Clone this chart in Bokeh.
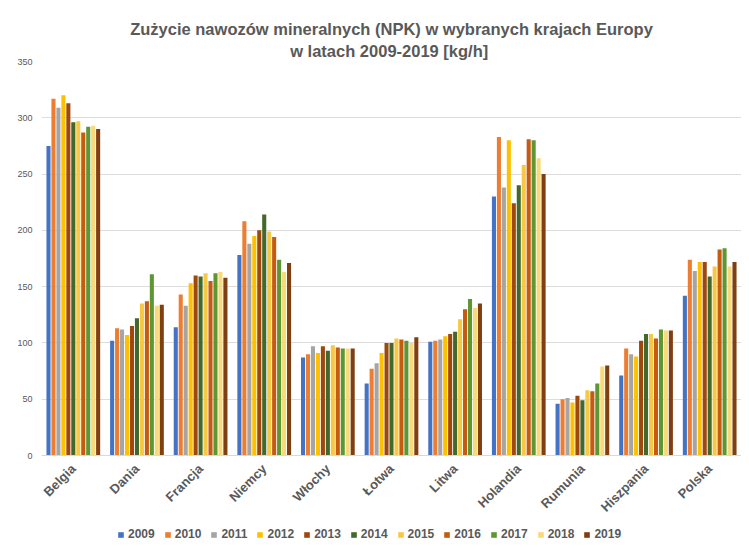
import math
from bokeh.plotting import figure
from bokeh.layouts import column
from bokeh.models import ColumnDataSource, Range1d, FactorRange, Legend, LegendItem, Title, FixedTicker
from bokeh.transform import dodge
from bokeh.embed import file_html
from bokeh.resources import INLINE

countries = ["Belgia", "Dania", "Francja", "Niemcy", "Włochy", "Łotwa", "Litwa",
             "Holandia", "Rumunia", "Hiszpania", "Polska"]
years = ["2009", "2010", "2011", "2012", "2013", "2014", "2015", "2016", "2017", "2018", "2019"]

# values per country, ordered by year 2009..2019
belgia    = [275, 317, 309, 320, 313, 296, 297, 287, 292, 293, 290]
dania     = [102, 113, 112, 107, 115, 122, 135, 137, 161, 133, 134]
francja   = [114, 143, 133, 153, 160, 159, 162, 155, 162, 163, 158]
niemcy    = [178, 208, 188, 195, 200, 214, 199, 194, 174, 163, 171]
wlochy    = [87, 90, 97, 91, 97, 93, 98, 96, 95, 95, 95]
lotwa     = [64, 77, 82, 91, 100, 100, 104, 103, 102, 100, 105]
litwa     = [101, 102, 103, 106, 108, 110, 121, 130, 139, 131, 135]
holandia  = [230, 283, 238, 280, 224, 240, 258, 281, 280, 264, 250]
rumunia   = [46, 50, 51, 47, 53, 49, 58, 57, 64, 79, 80]
hiszpania = [71, 95, 90, 88, 102, 108, 108, 104, 112, 111, 111]
polska    = [142, 174, 164, 172, 172, 159, 168, 183, 184, 168, 172]

rows = [belgia, dania, francja, niemcy, wlochy, lotwa, litwa, holandia, rumunia, hiszpania, polska]
colors = ["#4472C4", "#ED7D31", "#A5A5A5", "#FFC000", "#9E480E", "#43682B",
          "#F7C843", "#C55A11", "#5E9732", "#F9D978", "#7F3F12"]
title_1 = "Zużycie nawozów mineralnych (NPK) w wybranych krajach Europy"
title_2 = "w latach 2009-2019  [kg/h]"

data = {"country": countries}
for j, y in enumerate(years):
    data["y" + y] = [r[j] for r in rows]
src = ColumnDataSource(data)

TXT = "#595959"
p = figure(width=741, height=523, x_range=FactorRange(*countries), y_range=Range1d(0, 350),
           output_backend="svg", toolbar_location=None, min_border_left=41,
           min_border_right=0, min_border_top=61, min_border_bottom=0)

step = 0.078
for j, y in enumerate(years):
    p.vbar(x=dodge("country", (j - 5) * step, range=p.x_range), top="y" + y,
           width=0.064, source=src, color=colors[j], line_color=None)

p.add_layout(Title(text=title_2, align="center", text_font_size="16.5px", text_line_height=0.8,
                   text_font="Liberation Sans", text_font_style="bold", text_color=TXT,
                   standoff=4), "above")
p.add_layout(Title(text=title_1, align="center", text_font_size="16.5px",
                   text_font="Liberation Sans", text_font_style="bold", text_color=TXT,
                   standoff=0), "above")

p.outline_line_color = None
p.xgrid.grid_line_color = None
p.ygrid.grid_line_color = "#DDDDDD"
p.yaxis.ticker = FixedTicker(ticks=[0, 50, 100, 150, 200, 250, 300, 350])
p.yaxis.axis_line_color = None
p.yaxis.major_tick_line_color = None
p.yaxis.minor_tick_line_color = None
p.yaxis.major_label_text_font_size = "9px"
p.yaxis.major_label_text_color = TXT
p.yaxis.major_label_text_font = "Liberation Sans"
p.yaxis.major_label_standoff = 3

p.xaxis.axis_line_color = "#D9D9D9"
p.xaxis.major_tick_line_color = None
p.xaxis.major_label_orientation = math.pi / 4
p.xaxis.major_label_text_font_size = "13px"
p.xaxis.major_label_text_font_style = "bold"
p.xaxis.major_label_text_font = "Liberation Sans"
p.xaxis.major_label_text_color = TXT
p.xaxis.major_label_standoff = 5
p.x_range.range_padding = 0.0
p.x_range.group_padding = 0

# separate strip for the legend
lg = figure(width=741, height=20, x_range=Range1d(0, 1), y_range=Range1d(0, 1),
            output_backend="svg", toolbar_location=None, min_border=0)
lg.axis.visible = False
lg.grid.visible = False
lg.outline_line_color = None
items = []
nan = float("nan")
for j, y in enumerate(years):
    r = lg.vbar(x=[nan], top=[nan], width=0.1, color=colors[j], line_color=None)
    items.append(LegendItem(label=y, renderers=[r]))
legend = Legend(items=items, orientation="horizontal", location=(76, 2),
                glyph_width=7, glyph_height=7, spacing=9, label_standoff=4,
                label_text_font_size="12px", label_text_font_style="bold",
                label_text_font="Liberation Sans", label_text_color=TXT,
                border_line_color=None, background_fill_alpha=0, margin=0, padding=2)
lg.add_layout(legend)

open("out.html", "w").write(file_html(column(p, lg), INLINE))
